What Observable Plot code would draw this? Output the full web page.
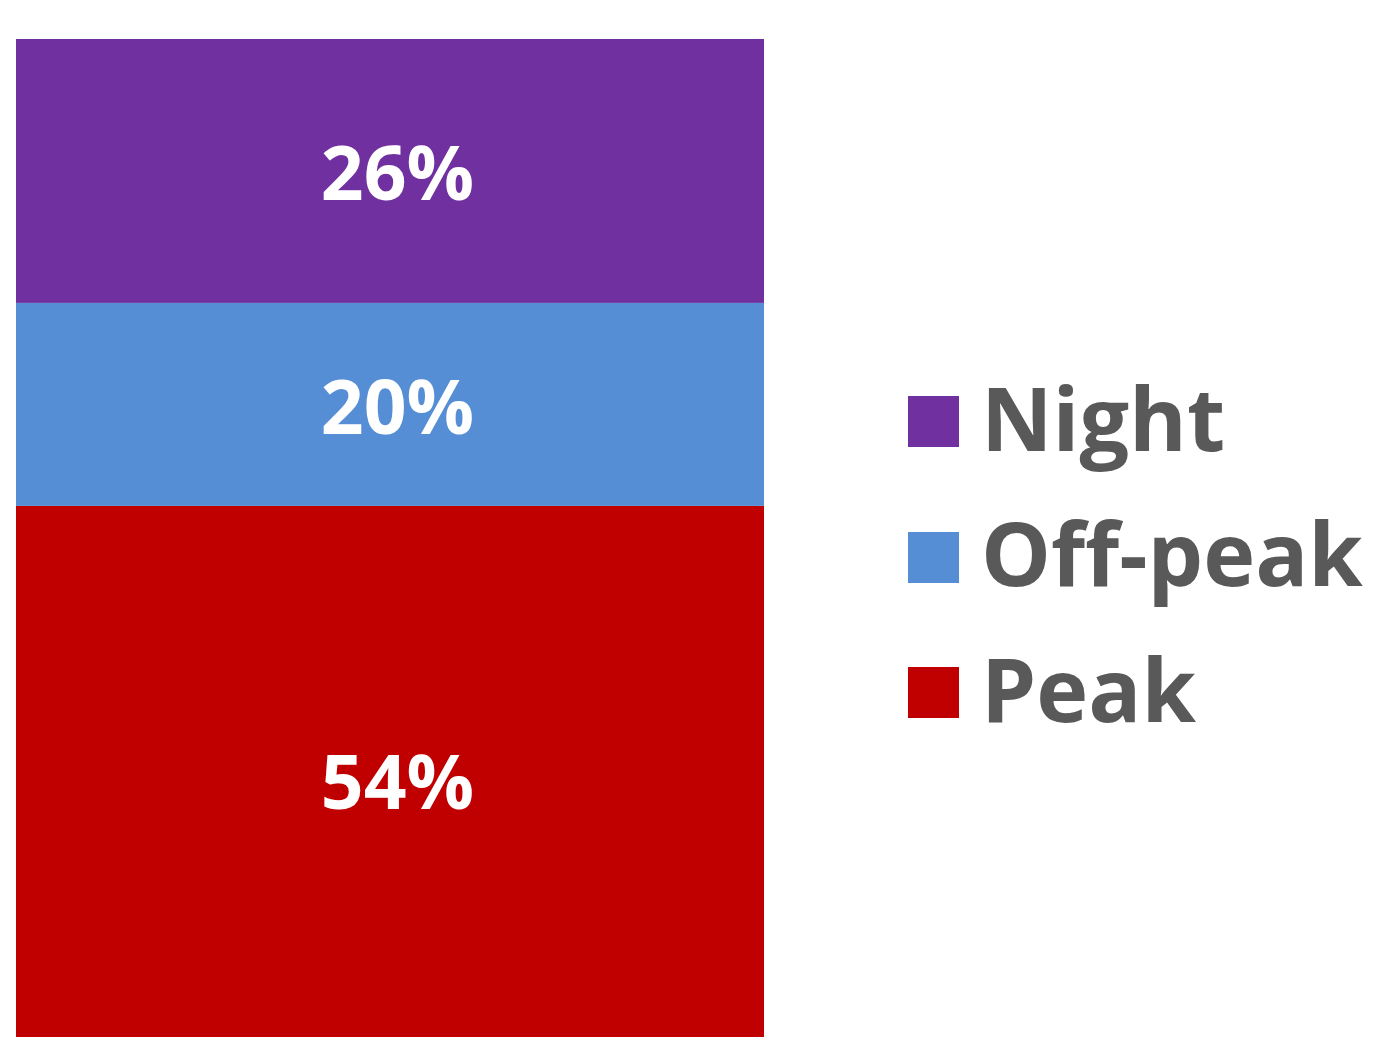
<!DOCTYPE html>
<html>
<head>
<meta charset="utf-8">
<script src="https://cdn.jsdelivr.net/npm/d3@7"></script>
<script src="https://cdn.jsdelivr.net/npm/@observablehq/plot@0.6"></script>
<style>
  html, body { margin: 0; padding: 0; background: #fff; overflow: hidden; }
  #wrap { position: relative; width: 1382px; height: 1037px; }
  #chart svg { display: block; }
  #legend { position: absolute; left: 908px; top: 354px; }
  #legend .lg-swatch { height: 135.5px; padding-bottom: 0; display: flex; align-items: center; }
  #legend .lg-swatch svg { margin-right: 22px !important; }
  #legend .lg-swatch-label { font-family: "Open Sans", sans-serif; font-weight: 700; font-size: 88px; color: #595959; position: relative; top: -5px; overflow: visible; }
</style>
</head>
<body>
<div id="wrap">
  <div id="chart"></div>
  <div id="legend"></div>
</div>
<script>
const categories = ["Peak", "Off-peak", "Night"];
const values = [54, 20, 26];
const legendOrder = ["Night", "Off-peak", "Peak"];
const colors = ["#7030A0", "#558ED5", "#C00000"];

const data = categories.map((c, i) => ({group: "all", category: c, value: values[i]}));

const chart = Plot.plot({
  width: 1382,
  height: 1060,
  marginTop: 39,
  marginBottom: 6,
  marginLeft: 0,
  marginRight: 0,
  x: {type: "band", domain: ["all"], range: [16, 764], padding: 0, axis: null},
  y: {domain: [0, 100], axis: null},
  color: {domain: legendOrder, range: colors},
  marks: [
    Plot.barY(data, Plot.stackY({x: "group", y: "value", fill: "category"})),
    Plot.text(data, Plot.stackY({
      x: "group", y: "value", text: d => d.value + "%",
      fill: "white", fontSize: 75, fontWeight: 700,
      fontFamily: "Open Sans, sans-serif", dx: 7, dy: 5
    }))
  ]
});
document.getElementById("chart").appendChild(chart);

const legend = chart.legend("color", {
  legend: "swatches",
  columns: 1,
  swatchSize: 51,
  className: "lg"
});
document.getElementById("legend").appendChild(legend);
</script>
</body>
</html>
